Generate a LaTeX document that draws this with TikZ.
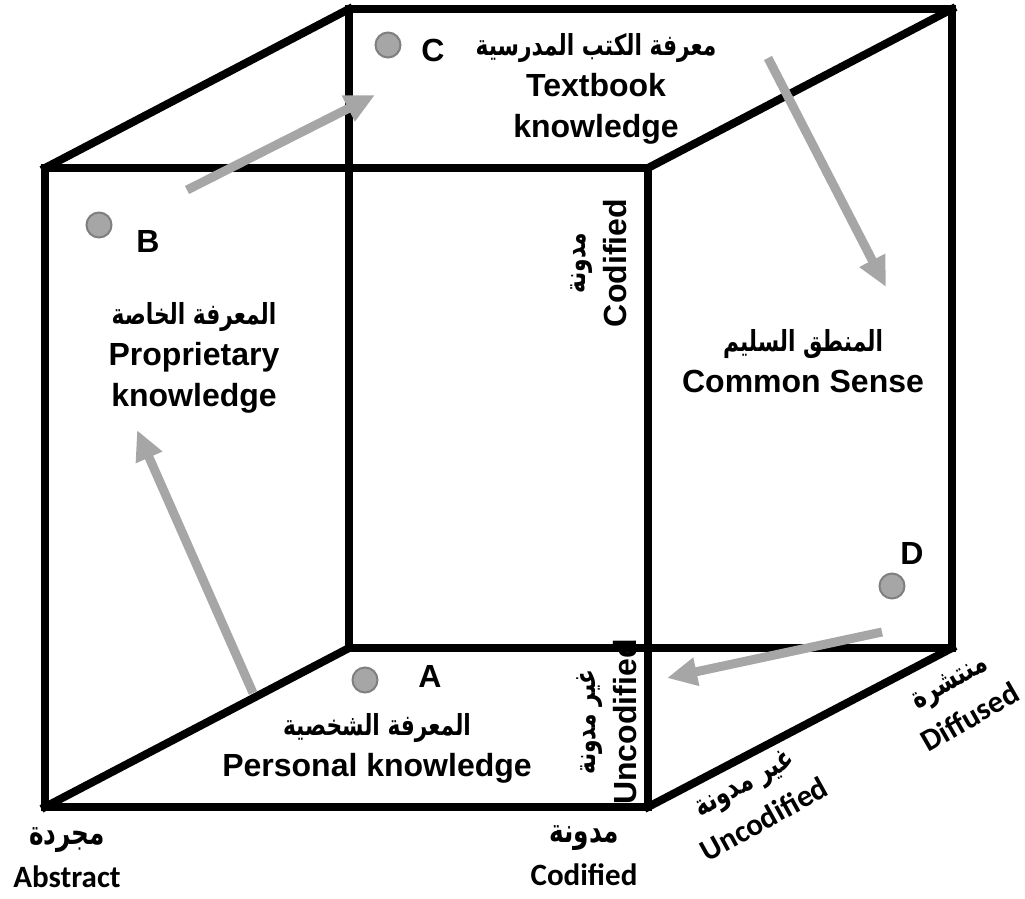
\documentclass[tikz,border=0pt]{standalone}
\usepackage{fontspec}
\setmainfont{Liberation Sans}
\newfontfamily\arabicfont[Script=Arabic, FakeStretch=0.75]{DejaVu Sans}
\newfontfamily\calfont{Carlito}
\TeXXeTstate=1
\usetikzlibrary{arrows.meta}
\definecolor{flowgray}{HTML}{A6A6A6}
\definecolor{dotedge}{HTML}{7F7F7F}
\newcommand{\arabtxt}[2][29]{{\arabicfont\bfseries\fontsize{#1}{#1}\selectfont\beginR #2\endR}}
\tikzset{
  cubeedge/.style={line width=8pt, line join=miter, line cap=rect},
  flow/.style={line width=9pt, draw=flowgray, -{Triangle[length=30pt,width=27pt]}},
  dot/.style={circle, fill=flowgray, draw=dotedge, line width=2pt, minimum size=25pt, inner sep=0pt},
  lbl/.style={font=\bfseries\fontsize{32}{41}\selectfont, align=center, inner sep=0pt},
  cal/.style={font=\calfont\bfseries\fontsize{31}{43}\selectfont, align=center, inner sep=0pt}
}
\begin{document}
\begin{tikzpicture}[x=1pt,y=-1pt]
  \useasboundingbox (0,0) rectangle (1025,898);

  % front face
  \coordinate (ftl) at (45,168);
  \coordinate (ftr) at (648,168);
  \coordinate (fbl) at (45,807);
  \coordinate (fbr) at (648,807);
  % back face
  \coordinate (btl) at (349,9);
  \coordinate (btr) at (952,9);
  \coordinate (bbl) at (349,648);
  \coordinate (bbr) at (952,648);

  \draw[cubeedge] (btl) rectangle (bbr);
  \draw[cubeedge] (ftl) rectangle (fbr);
  \foreach \f/\b in {ftl/btl, ftr/btr, fbl/bbl, fbr/bbr}{
    \draw[cubeedge] (\f) -- (\b);
  }

  % points
  \node[dot] (dotB) at (99,225) {};
  \node[dot] (dotC) at (388,45) {};
  \node[dot] (dotA) at (365,680) {};
  \node[dot] (dotD) at (892,586) {};
  \node[lbl] (letB) at (148,241) {B};
  \node[lbl] (letC) at (433,50) {C};
  \node[lbl] (letA) at (430,676) {A};
  \node[lbl] (letD) at (912,553) {D};

  % knowledge kinds
  \node[lbl] (textbook) at (596,89) {\arabtxt{معرفة الكتب المدرسية}\\Textbook\\knowledge};
  \node[lbl] (proprietary) at (194,358) {\arabtxt{المعرفة الخاصة}\\Proprietary\\knowledge};
  \node[lbl] (common) at (803,361) {\arabtxt{المنطق السليم}\\Common Sense};
  \node[lbl] (personal) at (377,748) {\arabtxt{المعرفة الشخصية}\\Personal knowledge};

  % axis labels
  \node[lbl, rotate=90] (codtop) at (599,263) {\arabtxt{مدونة}\\Codified};
  \node[lbl, rotate=90] (uncodside) at (607,722) {\arabtxt{غير مدونة}\\Uncodified};
  \node[cal] (abstract) at (67,858) {\arabtxt[33]{مجردة}\\Abstract};
  \node[cal] (codbottom) at (584,856) {\arabtxt[33]{مدونة}\\Codified};
  \node[cal, rotate=29] (uncoddiag) at (754,801) {\arabtxt[30]{غير مدونة}\\Uncodified};
  \node[cal, rotate=30] (diffused) at (960,700) {\arabtxt[30]{منتشرة}\\Diffused};

  % movement
  \coordinate (bcTail) at (187,190);
  \coordinate (bcTip) at (375,95);
  \coordinate (csTail) at (768,58);
  \coordinate (csTip) at (886,287);
  \coordinate (daTail) at (882,632);
  \coordinate (daTip) at (667,678);
  \coordinate (abTail) at (253,693);
  \coordinate (abTip) at (137,430);
  \draw[flow] (bcTail) -- (bcTip);
  \draw[flow] (csTail) -- (csTip);
  \draw[flow] (daTail) -- (daTip);
  \draw[flow] (abTail) -- (abTip);
\end{tikzpicture}
\end{document}
